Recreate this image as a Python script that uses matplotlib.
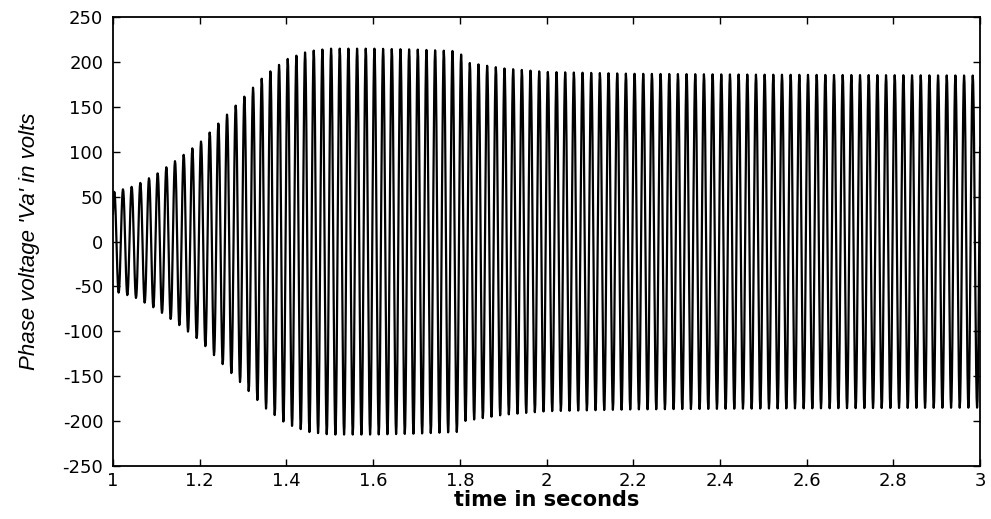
import numpy as np
import matplotlib
matplotlib.use('Agg')
import matplotlib.pyplot as plt

plt.rcParams['axes.unicode_minus'] = False

# envelope of phase voltage (time s, peak V)
env_t = [1.0, 1.05, 1.1, 1.15, 1.2, 1.25, 1.3, 1.35, 1.4, 1.45, 1.5,
         1.6, 1.7, 1.8, 1.81, 1.9, 2.0, 2.2, 2.5, 3.0]
env_v = [55, 62, 75, 92, 110, 135, 160, 185, 203, 212, 215,
         215, 214, 212, 200, 193, 189, 187, 186, 185]
f_supply = 50.0  # Hz, carrier
fs = 1000.0  # sample rate of the simulation trace

xticks = [1, 1.2, 1.4, 1.6, 1.8, 2, 2.2, 2.4, 2.6, 2.8, 3]
xticklabels = ['1', '1.2', '1.4', '1.6', '1.8', '2', '2.2', '2.4', '2.6', '2.8', '3']
yticks = list(range(-250, 251, 50))

t = np.arange(1.0, 3.0 + 1 / fs, 1 / fs)
amp = np.interp(t, env_t, env_v)
va = amp * np.sin(2 * np.pi * f_supply * t + 0.6)

fig = plt.figure(figsize=(9.91, 5.19), dpi=100)
ax = fig.add_axes([0.114, 0.102, 0.875, 0.865])
ax.plot(t, va, color='black', lw=1.6)

ax.set_xlim(1, 3)
ax.set_ylim(-250, 250)
ax.set_xticks(xticks)
ax.set_xticklabels(xticklabels)
ax.set_yticks(yticks)
ax.tick_params(direction='in', top=True, right=True, length=5, width=1,
               labelsize=13)
ax.tick_params(axis='y', pad=7)
ax.tick_params(axis='x', pad=4)
for lab in ax.get_xticklabels() + ax.get_yticklabels():
    lab.set_family('DejaVu Sans')
for s in ax.spines.values():
    s.set_linewidth(1.3)

ax.set_xlabel('time in seconds', fontsize=15, fontweight='bold',
              family='DejaVu Sans', labelpad=0)
ax.set_ylabel("Phase voltage 'Va' in volts", fontsize=16, style='italic',
              family='Liberation Sans', labelpad=16)

fig.savefig('out.png', dpi=100)
